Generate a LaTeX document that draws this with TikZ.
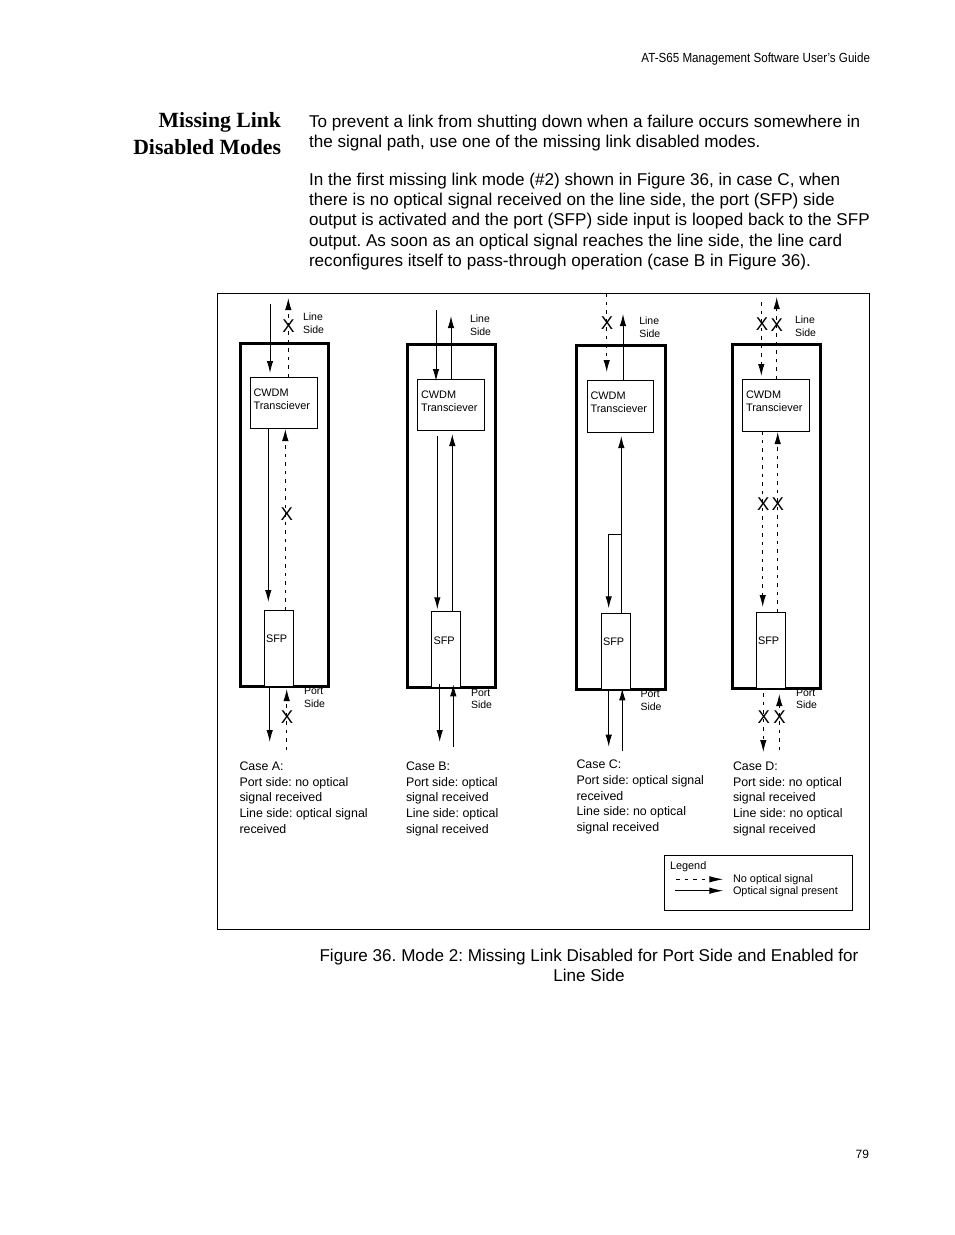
\documentclass[tikz,border=0pt]{standalone}
\usepackage{fontspec}
\setmainfont{Liberation Sans}
\newfontfamily\headfont{Liberation Serif}
\newfontfamily\guidefont[FakeStretch=0.88]{Liberation Sans}
\usetikzlibrary{arrows.meta}
\frenchspacing
\tikzset{
  every node/.style={outer sep=0pt},
  sig/.style={-{Latex[length=12pt,width=6.5pt]}, line width=1pt},
  nosig/.style={sig, dash pattern=on 3.5pt off 5pt},
  frame/.style={draw, line width=3pt},
  cwdm/.style={draw, fill=white, line width=0.9pt, anchor=north west, inner sep=0pt},
  sfp/.style={draw, fill=white, line width=0.9pt, anchor=north west, inner sep=0pt},
  boxtxt/.style={anchor=north west, inner sep=0pt, align=left, font=\fontsize{10.9}{13}\selectfont},
  sidetxt/.style={anchor=north west, inner sep=0pt, align=left, font=\fontsize{10.5}{12.6}\selectfont},
  casetxt/.style={anchor=north west, inner sep=0pt, align=left, font=\fontsize{12.4}{15.65}\selectfont},
  bodytxt/.style={anchor=north west, inner sep=0pt, align=left, font=\fontsize{17.1}{20.3}\selectfont},
  xmark/.style={inner sep=0pt, font=\fontsize{18.5}{18.5}\selectfont}
}
\begin{document}
\begin{tikzpicture}[x=1pt, y=-1pt]
  \useasboundingbox (0,0) rectangle (954,1235);
  % page text
  \node[anchor=east, inner sep=0pt, font=\guidefont\fontsize{13.2}{15}\selectfont] (header) at (870,59.5) {AT-S65 Management Software User’s Guide};
  \node[anchor=north east, inner sep=0pt, align=right, font=\headfont\bfseries\fontsize{21.7}{27}\selectfont] (heading) at (281,112) {Missing Link\\Disabled Modes};
  \node[bodytxt] (para1) at (309,115) {To prevent a link from shutting down when a failure occurs somewhere in\\the signal path, use one of the missing link disabled modes.};
  \node[bodytxt] (para2) at (309,173) {In the first missing link mode (\#2) shown in Figure 36, in case C, when\\there is no optical signal received on the line side, the port (SFP) side\\output is activated and the port (SFP) side input is looped back to the SFP\\output. As soon as an optical signal reaches the line side, the line card\\reconfigures itself to pass-through operation (case B in Figure 36).};
  \node[draw, line width=0.9pt, minimum width=652pt, minimum height=636pt, anchor=north west, inner sep=0pt] (figbox) at (217.5,293.5) {};

  % case A
  \node[frame, minimum width=88pt, minimum height=343pt, anchor=north west, inner sep=0pt] (frameA) at (240,343) {};
  \node[cwdm, minimum width=67.4pt, minimum height=51pt] (cwdmA) at (250.3,377) {};
  \node[sfp, minimum width=29pt, minimum height=76pt] (sfpA) at (264.5,610) {};
  \node[boxtxt] (cwdmAtxt) at (253.5,389) {CWDM\\Transciever};
  \node[boxtxt] (sfpAtxt) at (266,634.5) {SFP};
  \node[sidetxt] (lineA) at (303,313) {Line\\Side};
  \node[sidetxt] (portA) at (304,687.5) {Port\\Side};
  \coordinate (a1s) at (270,304);
  \coordinate (a1e) at (270,373);
  \coordinate (a2e) at (288.3,298);
  \coordinate (a3e) at (268.3,602);
  \coordinate (a4e) at (285.3,429);
  \coordinate (a5e) at (269.7,742);
  \coordinate (a6s) at (286.7,750);
  \coordinate (a6e) at (286.7,689);
  \draw[sig] (a1s) -- (a1e);
  \draw[nosig] (cwdmA.north -| 288.3,0) -- (a2e);
  \draw[sig] (cwdmA.south -| 268.3,0) -- (a3e);
  \draw[nosig] (sfpA.north -| 285.3,0) -- (a4e);
  \draw[sig] (sfpA.south -| 269.7,0) -- (a5e);
  \draw[nosig] (a6s) -- (a6e);
  \node[xmark] (xA1) at (288.5,326) {X};
  \node[xmark] (xA2) at (286.7,514) {X};
  \node[xmark] (xA3) at (287,717) {X};
  \node[casetxt] (caseA) at (239.5,761.8) {Case A:\\Port side: no optical\\signal received\\Line side: optical signal\\received};

  % case B
  \node[frame, minimum width=88.4pt, minimum height=343pt, anchor=north west, inner sep=0pt] (frameB) at (407.3,344.3) {};
  \node[cwdm, minimum width=67.4pt, minimum height=51pt] (cwdmB) at (417.3,379.3) {};
  \node[sfp, minimum width=29pt, minimum height=76pt] (sfpB) at (431.3,611.3) {};
  \node[boxtxt] (cwdmBtxt) at (421,390.5) {CWDM\\Transciever};
  \node[boxtxt] (sfpBtxt) at (433.5,636.5) {SFP};
  \node[sidetxt] (lineB) at (470,315) {Line\\Side};
  \node[sidetxt] (portB) at (471,689) {Port\\Side};
  \coordinate (b1s) at (436,310);
  \coordinate (b1e) at (436,381);
  \coordinate (b2e) at (451,316);
  \coordinate (b3s) at (437.3,436);
  \coordinate (b3e) at (437.3,609.3);
  \coordinate (b4e) at (452.3,434);
  \coordinate (b5s) at (439.7,684);
  \coordinate (b5e) at (439.7,742);
  \coordinate (b6s) at (453.3,747);
  \coordinate (b6e) at (453.3,684.3);
  \draw[sig] (b1s) -- (b1e);
  \draw[sig] (cwdmB.north -| 451,0) -- (b2e);
  \draw[sig] (b3s) -- (b3e);
  \draw[sig] (sfpB.north -| 452.3,0) -- (b4e);
  \draw[sig] (b5s) -- (b5e);
  \draw[sig] (b6s) -- (b6e);
  \node[casetxt] (caseB) at (406,761.8) {Case B:\\Port side: optical\\signal received\\Line side: optical\\signal received};

  % case C
  \node[frame, minimum width=89.4pt, minimum height=344pt, anchor=north west, inner sep=0pt] (frameC) at (576.3,345.3) {};
  \node[cwdm, minimum width=66.4pt, minimum height=52pt] (cwdmC) at (587.3,380.3) {};
  \node[sfp, minimum width=29pt, minimum height=76pt] (sfpC) at (601.3,613.3) {};
  \node[boxtxt] (cwdmCtxt) at (590.5,391.5) {CWDM\\Transciever};
  \node[boxtxt] (sfpCtxt) at (603,638) {SFP};
  \node[sidetxt] (lineC) at (639.3,317) {Line\\Side};
  \node[sidetxt] (portC) at (640.5,690.5) {Port\\Side};
  \coordinate (c1s) at (606.7,293);
  \coordinate (c1e) at (606.7,372);
  \coordinate (c2e) at (623,314);
  \coordinate (c3e) at (621.3,436);
  \coordinate (c4s) at (621.3,534.3);
  \coordinate (c4m) at (608.7,534.3);
  \coordinate (c4e) at (608.7,608.3);
  \coordinate (c5e) at (608.7,746.7);
  \coordinate (c6s) at (622.3,750.7);
  \coordinate (c6e) at (622.3,688.3);
  \draw[nosig] (c1s) -- (c1e);
  \draw[sig] (cwdmC.north -| 623,0) -- (c2e);
  \draw[sig] (sfpC.north -| 621.3,0) -- (c3e);
  \draw[sig] (c4s) -- (c4m) -- (c4e);
  \draw[sig] (sfpC.south -| 608.7,0) -- (c5e);
  \draw[sig] (c6s) -- (c6e);
  \node[xmark] (xC1) at (607,323) {X};
  \node[casetxt] (caseC) at (576.5,760.3) {Case C:\\Port side: optical signal\\received\\Line side: no optical\\signal received};

  % case D
  \node[frame, minimum width=88pt, minimum height=344pt, anchor=north west, inner sep=0pt] (frameD) at (732.3,344) {};
  \node[cwdm, minimum width=67pt, minimum height=52pt] (cwdmD) at (742.7,379.3) {};
  \node[sfp, minimum width=29pt, minimum height=75.7pt] (sfpD) at (756.3,612.3) {};
  \node[boxtxt] (cwdmDtxt) at (746,391) {CWDM\\Transciever};
  \node[boxtxt] (sfpDtxt) at (758,636.5) {SFP};
  \node[sidetxt] (lineD) at (795,316) {Line\\Side};
  \node[sidetxt] (portD) at (796,689) {Port\\Side};
  \coordinate (d1s) at (761.3,302);
  \coordinate (d1e) at (761.3,376);
  \coordinate (d2e) at (776.7,297);
  \coordinate (d3e) at (762.7,607);
  \coordinate (d4e) at (777.7,432);
  \coordinate (d5s) at (763.3,693);
  \coordinate (d5e) at (763.3,752);
  \coordinate (d6s) at (779.3,750);
  \coordinate (d6e) at (779.3,694);
  \draw[nosig] (d1s) -- (d1e);
  \draw[nosig] (cwdmD.north -| 776.7,0) -- (d2e);
  \draw[nosig] (cwdmD.south -| 762.7,0) -- (d3e);
  \draw[nosig] (sfpD.north -| 777.7,0) -- (d4e);
  \draw[nosig] (d5s) -- (d5e);
  \draw[nosig] (d6s) -- (d6e);
  \node[xmark] (xD1) at (762,324.5) {X};
  \node[xmark] (xD2) at (776.7,325) {X};
  \node[xmark] (xD3) at (763.3,504.5) {X};
  \node[xmark] (xD4) at (777.7,504.5) {X};
  \node[xmark] (xD5) at (763.7,716.7) {X};
  \node[xmark] (xD6) at (779.5,717) {X};
  \node[casetxt] (caseD) at (733,761.8) {Case D:\\Port side: no optical\\signal received\\Line side: no optical\\signal received};

  % legend
  \node[draw, line width=0.9pt, minimum width=188.4pt, minimum height=54.6pt, anchor=north west, inner sep=0pt] (legend) at (664.3,855.7) {};
  \node[boxtxt] (legendtxt) at (670,861.5) {Legend};
  \node[boxtxt] (nosigtxt) at (733,874.5) {No optical signal};
  \node[boxtxt] (sigtxt) at (733,886.5) {Optical signal present};
  \coordinate (l1s) at (676,879.3);
  \coordinate (l1e) at (723.3,879.3);
  \coordinate (l2s) at (675,890.7);
  \coordinate (l2e) at (723.3,890.7);
  \draw[nosig, -{Latex[length=14pt,width=6.5pt]}] (l1s) -- (l1e);
  \draw[sig, -{Latex[length=14pt,width=6.5pt]}] (l2s) -- (l2e);

  \node[anchor=north, inner sep=0pt, align=center, font=\fontsize{17.1}{20.15}\selectfont] (caption) at (589,949) {Figure 36. Mode 2: Missing Link Disabled for Port Side and Enabled for\\Line Side};
  \node[anchor=east, inner sep=0pt, font=\fontsize{12}{14}\selectfont] (pagenum) at (869,1154) {79};
\end{tikzpicture}
\end{document}
